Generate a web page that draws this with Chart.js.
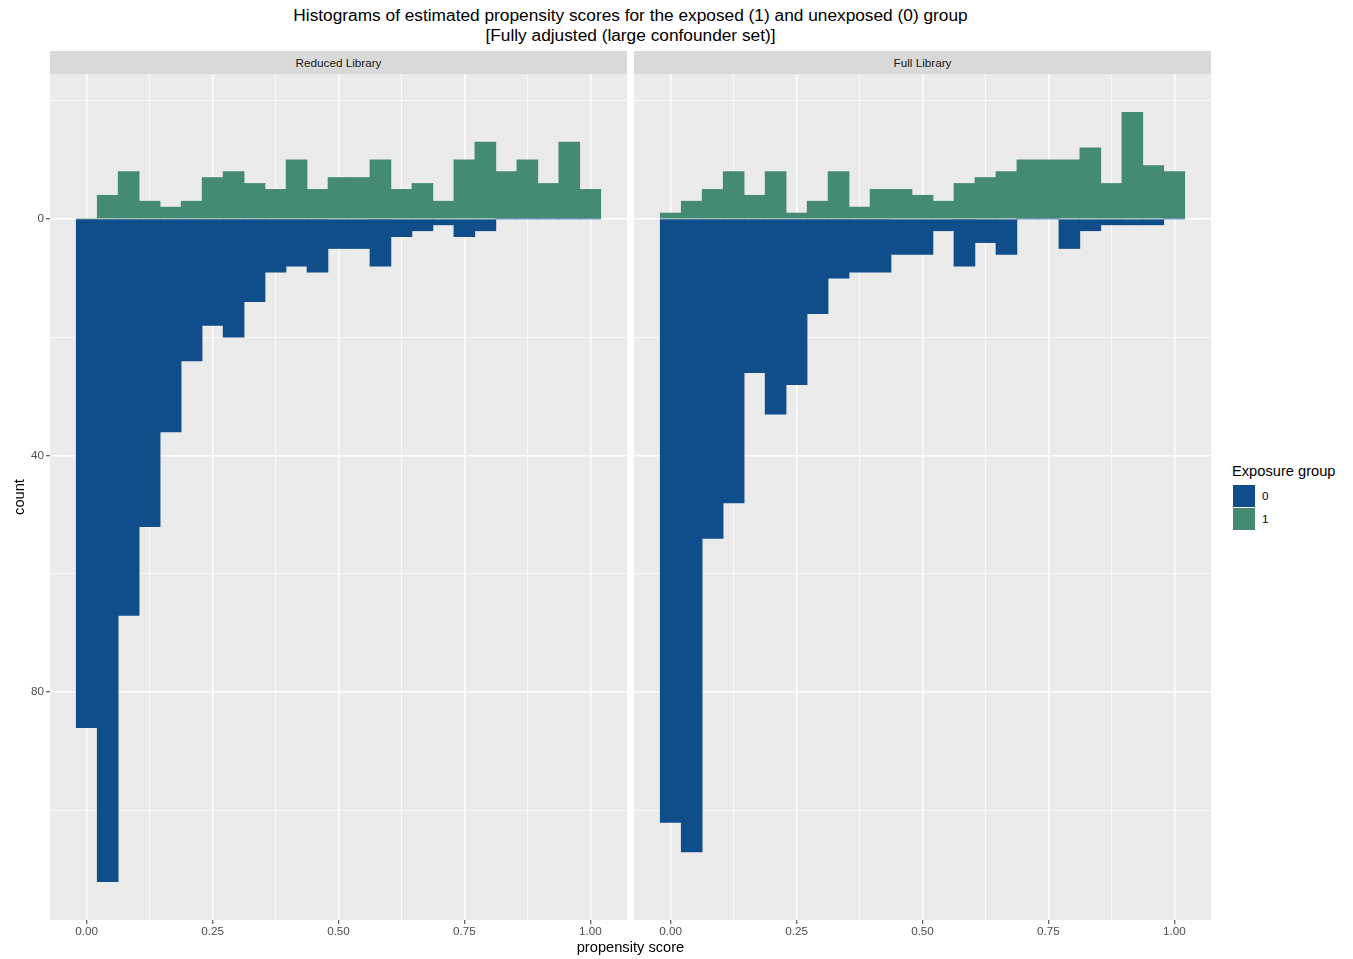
<!DOCTYPE html>
<html><head><meta charset="utf-8">
<script src="https://cdn.jsdelivr.net/npm/chart.js@4/dist/chart.umd.min.js"></script>
<style>
body{margin:0;background:#fff;width:1353px;height:959px;overflow:hidden;font-family:"Liberation Sans",Arial,sans-serif;position:relative}
.abs{position:absolute;white-space:nowrap}
#title{left:0;width:1261px;top:6px;text-align:center;font-size:17.3px;line-height:19.5px;color:#000}
.strip{background:#D9D9D9;top:51px;height:23px;line-height:23px;text-align:center;font-size:11.7px;color:#1A1A1A}
canvas{position:absolute}
</style>
</head><body>
<div id="title" class="abs">Histograms of estimated propensity scores for the exposed (1) and unexposed (0) group<br>[Fully adjusted (large confounder set)]</div>
<div class="abs strip" style="left:50px;width:577px">Reduced Library</div>
<div class="abs strip" style="left:634px;width:577px">Full Library</div>
<canvas id="c1" width="627" height="870" style="left:0;top:74px"></canvas>
<canvas id="c2" width="577" height="870" style="left:634px;top:74px"></canvas>
<div class="abs" style="left:0;width:1261px;top:938px;text-align:center;font-size:14.67px;line-height:18px;color:#000">propensity score</div>
<div class="abs" style="left:-11px;top:488px;width:60px;text-align:center;font-size:14.67px;line-height:18px;color:#000;transform:rotate(-90deg)">count</div>
<div class="abs" style="left:1232px;top:462px;font-size:14.67px;line-height:18px;color:#000">Exposure group</div>
<div class="abs" id="k0" style="left:1233px;top:485px;width:22px;height:22px"></div>
<div class="abs" id="k1" style="left:1233px;top:508px;width:22px;height:22px"></div>
<div class="abs" style="left:1262px;top:489px;font-size:11.7px;line-height:14px;color:#000">0</div>
<div class="abs" style="left:1262px;top:512px;font-size:11.7px;line-height:14px;color:#000">1</div>
<script>
// ---- data ----
const binCenters = [0.0000, 0.0417, 0.0833, 0.1250, 0.1667, 0.2083, 0.2500, 0.2917, 0.3333, 0.3750, 0.4167, 0.4583, 0.5000, 0.5417, 0.5833, 0.6250, 0.6667, 0.7083, 0.7500, 0.7917, 0.8333, 0.8750, 0.9167, 0.9583, 1.0000];
const reducedExposed   = [0, 4, 8, 3, 2, 3, 7, 8, 6, 5, 10, 5, 7, 7, 10, 5, 6, 3, 10, 13, 8, 10, 6, 13, 5];
const reducedUnexposed = [86, 112, 67, 52, 36, 24, 18, 20, 14, 9, 8, 9, 5, 5, 8, 3, 2, 1, 3, 2, 0, 0, 0, 0, 0];
const fullExposed      = [1, 3, 5, 8, 4, 8, 1, 3, 8, 2, 5, 5, 4, 3, 6, 7, 8, 10, 10, 10, 12, 6, 18, 9, 8];
const fullUnexposed    = [102, 107, 54, 48, 26, 33, 28, 16, 10, 9, 9, 6, 6, 2, 8, 4, 6, 0, 0, 5, 2, 1, 1, 1, 0];
const panelTitles = ['Reduced Library', 'Full Library'];
const groupLabels = ['0', '1'];
const xMajor = [0, 0.25, 0.5, 0.75, 1];
const xMinor = [0.125, 0.375, 0.625, 0.875];
const xTickLabels = ['0.00', '0.25', '0.50', '0.75', '1.00'];
const yMajor = [0, -40, -80];
const yMinor = [20, -20, -60, -100];
const yTickLabels = ['0', '40', '80'];

// ---- styles ----
const COL0 = '#104E8B', COL1 = '#458B74';
document.getElementById('k0').style.background = COL0;
document.getElementById('k1').style.background = COL1;
const FONT = "'Liberation Sans', Arial, sans-serif";
Chart.defaults.font.family = FONT;

const panelBg = {
  id: 'panelBg',
  beforeDraw(chart) {
    const a = chart.chartArea, ctx = chart.ctx;
    ctx.save(); ctx.fillStyle = '#EBEBEB';
    ctx.fillRect(a.left, a.top, a.right - a.left, a.bottom - a.top);
    ctx.restore();
  }
};

function zeroPad(s) { s.paddingTop = 0; s.paddingBottom = 0; s.paddingLeft = 0; s.paddingRight = 0; }

function makeChart(id, exposed, unexposed, showY) {
  const xTicks = xMajor.concat(xMinor).sort((a, b) => a - b);
  const yTicks = yMajor.concat(yMinor).sort((a, b) => a - b);
  const isMajorX = c => !!(c && c.tick) && xMajor.some(m => Math.abs(m - c.tick.value) < 1e-9);
  const isMajorY = c => !!(c && c.tick) && yMajor.some(m => Math.abs(m - c.tick.value) < 1e-9);
  return new Chart(document.getElementById(id), {
    type: 'bar',
    data: {
      datasets: [
        { label: groupLabels[1], data: binCenters.map((c, i) => ({ x: c, y: exposed[i] })),
          backgroundColor: COL1, grouped: false, barPercentage: 1, categoryPercentage: 1, borderWidth: 0, order: 2 },
        { label: groupLabels[0], data: binCenters.map((c, i) => ({ x: c, y: -unexposed[i] })),
          backgroundColor: COL0, grouped: false, barPercentage: 1, categoryPercentage: 1, borderWidth: 0, order: 1 }
      ]
    },
    options: {
      responsive: false, animation: false, devicePixelRatio: 1,
      layout: { padding: 0, autoPadding: false },
      plugins: { legend: { display: false }, tooltip: { enabled: false }, title: { display: false } },
      scales: {
        x: {
          type: 'linear', min: -0.0729, max: 1.0729, offset: false,
          afterBuildTicks: s => { s.ticks = xTicks.map(v => ({ value: v })); },
          afterFit: s => { s.height = 24; zeroPad(s); },
          border: { display: false },
          grid: {
            offset: false,
            color: '#FFFFFF',
            lineWidth: c => isMajorX(c) ? 1.5 : 0.75,
            drawTicks: true, tickLength: 4,
            tickColor: c => isMajorX(c) ? '#333333' : 'rgba(0,0,0,0)',
            tickWidth: 1
          },
          ticks: {
            autoSkip: false, maxRotation: 0, padding: 1,
            color: '#4D4D4D', font: { size: 11.7 },
            callback: v => { const i = xMajor.findIndex(m => Math.abs(m - v) < 1e-9); return i >= 0 ? xTickLabels[i] : ''; }
          }
        },
        y: {
          type: 'linear', min: -118.5, max: 24.5,
          afterBuildTicks: s => { s.ticks = yTicks.map(v => ({ value: v })); },
          afterFit: s => { s.width = showY ? 50 : 0; zeroPad(s); },
          border: { display: false },
          grid: {
            offset: false,
            color: '#FFFFFF',
            lineWidth: c => isMajorY(c) ? 1.5 : 0.75,
            drawTicks: showY, tickLength: 4,
            tickColor: c => isMajorY(c) ? '#333333' : 'rgba(0,0,0,0)',
            tickWidth: 1
          },
          ticks: {
            display: showY, autoSkip: false, padding: 2,
            color: '#4D4D4D', font: { size: 11.7 },
            callback: v => { const i = yMajor.findIndex(m => Math.abs(m - v) < 1e-9); return i >= 0 ? yTickLabels[i] : ''; }
          }
        }
      }
    },
    plugins: [panelBg]
  });
}
makeChart('c1', reducedExposed, reducedUnexposed, true);
makeChart('c2', fullExposed, fullUnexposed, false);
</script>
</body></html>
